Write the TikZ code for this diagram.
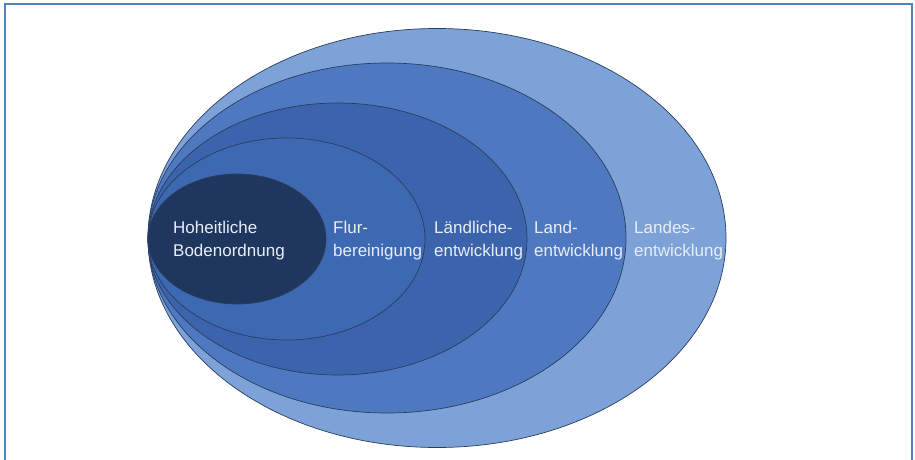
\documentclass[tikz,border=0pt]{standalone}
\usepackage{fontspec}
\setmainfont{Liberation Sans}
\definecolor{frameblue}{HTML}{4F81BD}
\definecolor{cA}{HTML}{7DA2D7}
\definecolor{cB}{HTML}{4E79C0}
\definecolor{cC}{HTML}{3C64AC}
\definecolor{cD}{HTML}{3D68B2}
\definecolor{cE}{HTML}{1F375F}
\definecolor{edge}{HTML}{2B3D5E}
\definecolor{txt}{HTML}{E8EDF6}
\tikzset{
  ring/.style={draw=edge, line width=0.7pt},
  lbl/.style={anchor=west, align=left, inner sep=0pt, text=txt,
    font=\fontsize{17}{22.5}\selectfont},
  frameline/.style={draw=frameblue, line width=2pt}
}
\begin{document}
\begin{tikzpicture}[x=1pt,y=-1pt]
\useasboundingbox (0,0) rectangle (915,460);
\coordinate (tl) at (5,4);
\coordinate (tr) at (912,4);
\coordinate (bl) at (5,460);
\coordinate (br) at (912,460);
\draw[frameline] (bl) -- (tl) -- (tr) -- (br);
% nested ellipses, all touching at the left
\filldraw[ring, fill=cA] (437,238) ellipse [x radius=289, y radius=209.5];
\filldraw[ring, fill=cB] (387,238) ellipse [x radius=239, y radius=175];
\filldraw[ring, fill=cC] (337.5,239) ellipse [x radius=189.5, y radius=136];
\filldraw[ring, fill=cD] (286.5,239) ellipse [x radius=138.5, y radius=101];
\filldraw[ring, fill=cE] (237,239) ellipse [x radius=89, y radius=65];
\node[lbl] (hoh) at (173,240.5) {Hoheitliche\\Bodenordnung};
\node[lbl] (flur) at (333,240.5) {Flur-\\bereinigung};
\node[lbl] (laendl) at (434,240.5) {Ländliche-\\entwicklung};
\node[lbl] (land) at (534,240.5) {Land-\\entwicklung};
\node[lbl] (landes) at (634,240.5) {Landes-\\entwicklung};
\end{tikzpicture}
\end{document}
